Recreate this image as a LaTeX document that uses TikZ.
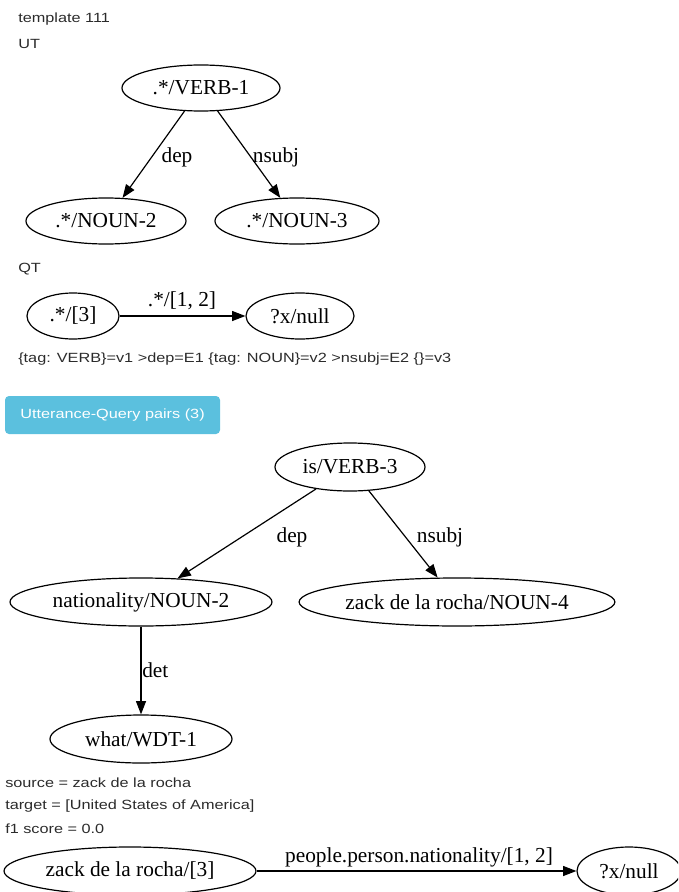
\documentclass[tikz,border=0pt]{standalone}
\usepackage{fontspec}
\setmainfont{Liberation Serif}
\newfontfamily\uisans[FakeStretch=1.22]{Liberation Sans}
\usetikzlibrary{shapes.geometric,arrows.meta}
\definecolor{infoblue}{HTML}{5BC0DE}
\definecolor{uigrey}{HTML}{2B2B2B}
\tikzset{
  gv/.style 2 args={ellipse, draw, line width=0.9pt, inner sep=0pt,
    minimum width=#1*0.75pt, minimum height=#2*0.75pt,
    font=\fontsize{16pt}{18pt}\selectfont},
  edge/.style={line width=0.9pt, -{Triangle[length=10pt,width=7.5pt]}},
  lbl/.style={inner sep=0pt, font=\fontsize{16pt}{18pt}\selectfont},
  uitext/.style={anchor=west, inner sep=0pt, text=uigrey,
    font=\uisans\fontsize{10pt}{12pt}\selectfont},
  btntext/.style={inner sep=0pt, text=white,
    font=\uisans\fontsize{10pt}{12pt}\selectfont}
}
\begin{document}
\begin{tikzpicture}[x=0.75pt,y=-0.75pt]
\useasboundingbox (0,0) rectangle (678,892);
\clip (0,0) rectangle (678,892);

% header
\node[uitext] (title) at (18,19) {template 111};
\node[uitext] (ut) at (18,44) {UT};

% utterance template graph
\node[gv={158}{46}] (v1) at (201,88) {.*/VERB-1};
\node[gv={160}{46}] (n2) at (106,221) {.*/NOUN-2};
\node[gv={164}{46}] (n3) at (297,221) {.*/NOUN-3};
\draw[edge] (v1) -- (n2);
\draw[edge] (v1) -- (n3);
\node[lbl] (ldep) at (177,157) {dep};
\node[lbl] (lnsubj) at (276,157) {nsubj};

% query template graph
\node[uitext] (qt) at (18,269) {QT};
\node[gv={92}{46}] (q1) at (73,316) {.*/[3]};
\node[gv={108}{46}] (q2) at (300,316) {?x/null};
\draw[edge] (q1) -- (q2);
\node[lbl] (lq) at (182,301) {.*/[1, 2]};

\node[uitext] (tags) at (18,359) {\{tag: VERB\}=v1 >dep=E1 \{tag: NOUN\}=v2 >nsubj=E2 \{\}=v3};

% button
\fill[infoblue, rounded corners=3pt] (5,396) rectangle (220,434);
\node[btntext] (btn) at (112.5,415.5) {Utterance-Query pairs (3)};

% dependency graph of the utterance
\node[gv={150}{48}] (s1) at (350,467) {is/VERB-3};
\node[gv={262}{48}] (s2) at (141,602) {nationality/NOUN-2};
\node[gv={314}{48}] (s3) at (457,602) {zack de la rocha/NOUN-4};
\node[gv={182}{48}] (s4) at (141,739) {what/WDT-1};
\draw[edge] (s1) -- (s2);
\draw[edge] (s1) -- (s3);
\draw[edge] (s2) -- (s4);
\node[lbl] (ldep2) at (292,537) {dep};
\node[lbl] (lnsubj2) at (440,537) {nsubj};
\node[lbl, anchor=west] (ldet) at (142,670) {det};

% result info
\node[uitext] (src) at (5,783) {source = zack de la rocha};
\node[uitext] (tgt) at (5,806) {target = [United States of America]};
\node[uitext] (f1) at (5,829) {f1 score = 0.0};

% grounded query
\node[gv={252}{48}] (b1) at (130,871) {zack de la rocha/[3]};
\node[gv={104}{48}] (b2) at (629,871) {?x/null};
\draw[edge] (b1) -- (b2);
\node[lbl] (lb) at (419,857) {people.person.nationality/[1, 2]};
\end{tikzpicture}
\end{document}
